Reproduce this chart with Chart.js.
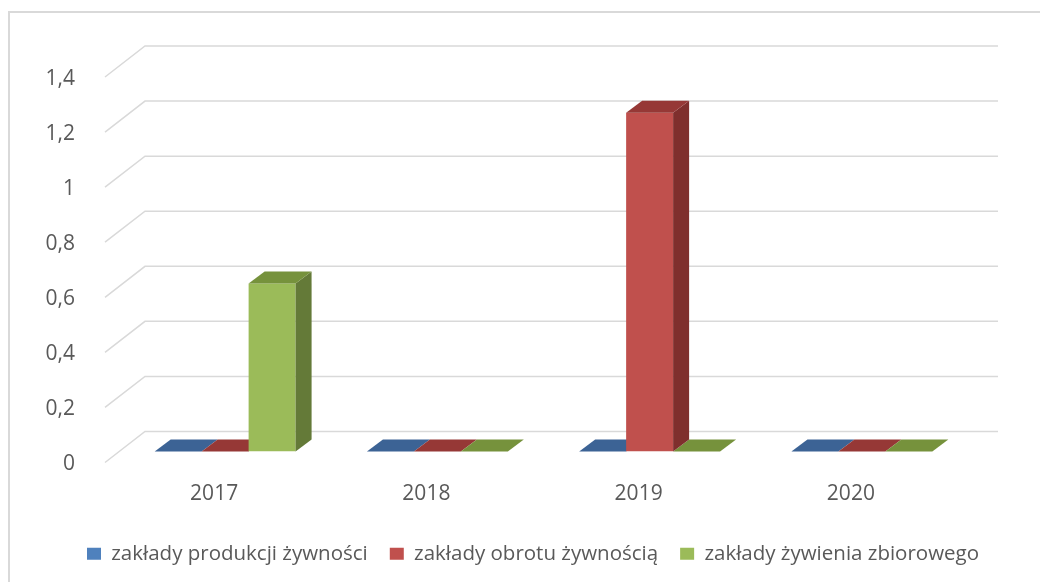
<!DOCTYPE html>
<html>
<head>
<meta charset="utf-8">
<script src="https://cdn.jsdelivr.net/npm/chart.js@4.4.1/dist/chart.umd.min.js"></script>
<style>
  html, body { margin: 0; padding: 0; background: #fff; overflow: hidden; }
  #frame { position: absolute; left: 8px; top: 11px; width: 1100px; height: 700px; border: 2px solid #d9d9d9; }
  #wrap { position: absolute; left: 0; top: 0; width: 1040px; height: 582px; }
</style>
</head>
<body>
<div id="frame"></div>
<div id="wrap"><canvas id="chart" width="1040" height="582"></canvas></div>
<script>
const years = ['2017', '2018', '2019', '2020'];
const seriesNames = ['zakłady produkcji żywności', 'zakłady obrotu żywnością', 'zakłady żywienia zbiorowego'];
const produkcja = [0, 0, 0, 0];
const obrot = [0, 0, 1.23, 0];
const zywienie = [0.61, 0, 0, 0];

const frontColors = ['#4F81BD', '#C0504D', '#9BBB59'];
const topColors = ['#3C6395', '#963836', '#76923C'];
const sideColors = ['#2F4D74', '#7F2F2D', '#647A38'];

const FONT = '"Open Sans", "DejaVu Sans", sans-serif';
const DX = 16, DY = -12;   // bar depth

function poly(ctx, pts, color) {
  ctx.fillStyle = color;
  ctx.beginPath();
  ctx.moveTo(pts[0][0], pts[0][1]);
  for (let k = 1; k < pts.length; k++) ctx.lineTo(pts[k][0], pts[k][1]);
  ctx.closePath();
  ctx.fill();
}

function topFace(ctx, b, color) {
  const l = b.x - b.width / 2, r = b.x + b.width / 2;
  poly(ctx, [[l, b.y], [l + DX, b.y + DY], [r + DX, b.y + DY], [r, b.y]], color);
}

function sideFace(ctx, b, color) {
  const r = b.x + b.width / 2;
  poly(ctx, [[r, b.y], [r + DX, b.y + DY], [r + DX, b.base + DY], [r, b.base]], color);
}

// fake 3D: walls, flat tops of empty bars, sides + tops of real bars
const box3d = {
  id: 'box3d',
  beforeDatasetsDraw(chart) {
    const ctx = chart.ctx, area = chart.chartArea, ys = chart.scales.y;
    ctx.save();
    ctx.strokeStyle = '#d9d9d9';
    ctx.lineWidth = 1.5;
    ys.ticks.forEach(t => {
      const py = ys.getPixelForValue(t.value);
      ctx.beginPath();
      ctx.moveTo(area.left - 14, py + 11);
      ctx.lineTo(area.left + 26, py - 20);
      ctx.lineTo(area.right + 30, py - 20);
      ctx.stroke();
    });
    chart.data.datasets.forEach((ds, i) => {
      chart.getDatasetMeta(i).data.forEach((bar, j) => {
        if (ds.data[j] === 0) topFace(ctx, bar.getProps(['x', 'y', 'base', 'width'], true), topColors[i]);
      });
    });
    ctx.restore();
  },
  afterDatasetsDraw(chart) {
    const ctx = chart.ctx;
    ctx.save();
    chart.data.datasets.forEach((ds, i) => {
      chart.getDatasetMeta(i).data.forEach((bar, j) => {
        if (ds.data[j] === 0) return;
        const b = bar.getProps(['x', 'y', 'base', 'width'], true);
        sideFace(ctx, b, sideColors[i]);
        topFace(ctx, b, topColors[i]);
      });
    });
    ctx.restore();
  }
};

const chart = new Chart(document.getElementById('chart'), {
  type: 'bar',
  data: {
    labels: years,
    datasets: [
      { label: seriesNames[0], data: produkcja, backgroundColor: frontColors[0] },
      { label: seriesNames[1], data: obrot, backgroundColor: frontColors[1] },
      { label: seriesNames[2], data: zywienie, backgroundColor: frontColors[2] }
    ]
  },
  options: {
    responsive: false,
    animation: false,
    barPercentage: 1,
    categoryPercentage: 0.664,
    layout: { padding: { top: 66, right: 0, left: 26, bottom: 8 } },
    plugins: {
      legend: {
        position: 'bottom',
        labels: {
          boxWidth: 14, boxHeight: 12, padding: 22, color: '#595959',
          font: { family: FONT, size: 20.5 }
        }
      },
      tooltip: { enabled: false }
    },
    scales: {
      x: {
        grid: { display: false },
        border: { display: false },
        ticks: { color: '#595959', padding: 22, labelOffset: -11, font: { family: FONT, size: 21 } },
        afterFit(s) { s.height = 70; }
      },
      y: {
        min: 0, max: 1.4,
        grid: { display: false },
        border: { display: false },
        ticks: {
          stepSize: 0.2, color: '#595959', padding: 36, labelOffset: 13,
          font: { family: FONT, size: 21 },
          callback: v => String(Math.round(v * 10) / 10).replace('.', ',')
        },
        afterFit(s) { s.width = 93; }
      },
      // empty right-hand space (room for the 3D back wall)
      spacer: {
        position: 'right',
        grid: { display: false },
        border: { display: false },
        ticks: { display: false },
        afterFit(s) { s.width = 72; }
      }
    }
  },
  plugins: [box3d]
});
</script>
</body>
</html>
